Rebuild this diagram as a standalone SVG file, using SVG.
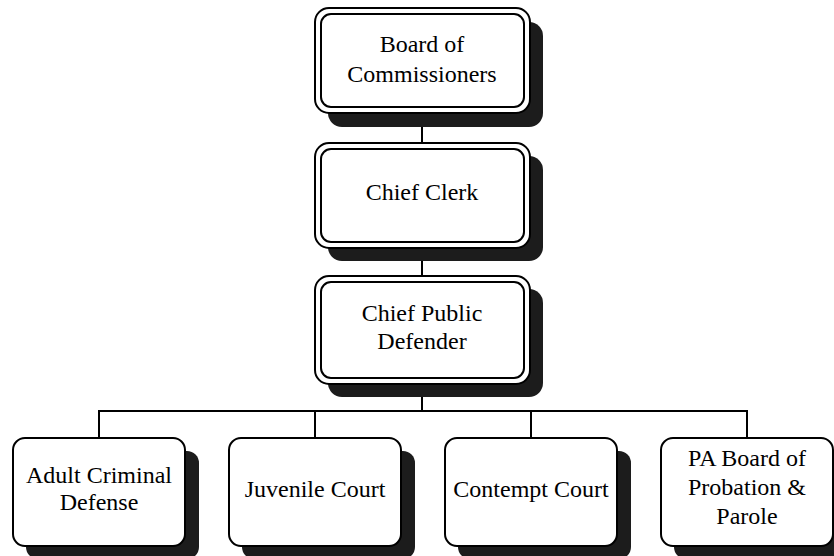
<svg xmlns="http://www.w3.org/2000/svg" width="834" height="556" viewBox="0 0 834 556">
<style>
.shadow{fill:#1c1c1c;stroke:none}
.box{fill:#fff;stroke:#000;stroke-width:2}
.inner{fill:none;stroke:#000;stroke-width:2}
.lbl{font-family:"Liberation Serif","Times New Roman",serif;font-size:24px;fill:#000;text-anchor:middle}
.conn{stroke:#000;stroke-width:2;fill:none}
</style>
<rect width="834" height="556" fill="#fff"/>
<g id="connectors">
<line class="conn" x1="422" y1="113" x2="422" y2="143"/>
<line class="conn" x1="422" y1="248" x2="422" y2="276"/>
<line class="conn" x1="422" y1="384" x2="422" y2="411"/>
<line class="conn" x1="98" y1="411" x2="748" y2="411"/>
<line class="conn" x1="99" y1="411" x2="99" y2="438"/>
<line class="conn" x1="315" y1="411" x2="315" y2="438"/>
<line class="conn" x1="531" y1="411" x2="531" y2="438"/>
<line class="conn" x1="747" y1="411" x2="747" y2="438"/>
</g>
<g id="board">
<rect class="shadow" x="328" y="22" width="215" height="105" rx="14"/>
<rect class="box" x="315" y="8" width="215" height="105" rx="14"/>
<rect class="inner" x="321" y="14" width="203" height="93" rx="10"/>
<text class="lbl" x="422" y="52">Board of</text>
<text class="lbl" x="422" y="82">Commissioners</text>
</g>
<g id="clerk">
<rect class="shadow" x="328" y="156" width="215" height="105" rx="14"/>
<rect class="box" x="315" y="143" width="215" height="105" rx="14"/>
<rect class="inner" x="321" y="149" width="203" height="93" rx="10"/>
<text class="lbl" x="422" y="200">Chief Clerk</text>
</g>
<g id="cpd">
<rect class="shadow" x="328" y="289" width="215" height="108" rx="14"/>
<rect class="box" x="315" y="276" width="215" height="108" rx="14"/>
<rect class="inner" x="321" y="282" width="203" height="96" rx="10"/>
<text class="lbl" x="422" y="321">Chief Public</text>
<text class="lbl" x="422" y="349">Defender</text>
</g>
<g id="adult">
<rect class="shadow" x="26" y="451" width="173" height="108" rx="12"/>
<rect class="box" x="13" y="438" width="172" height="108" rx="12"/>
<text class="lbl" x="99" y="483">Adult Criminal</text>
<text class="lbl" x="99" y="510">Defense</text>
</g>
<g id="juvenile">
<rect class="shadow" x="242" y="451" width="173" height="108" rx="12"/>
<rect class="box" x="229" y="438" width="172" height="108" rx="12"/>
<text class="lbl" x="315" y="497">Juvenile Court</text>
</g>
<g id="contempt">
<rect class="shadow" x="458" y="451" width="173" height="108" rx="12"/>
<rect class="box" x="445" y="438" width="172" height="108" rx="12"/>
<text class="lbl" x="531" y="497">Contempt Court</text>
</g>
<g id="pa">
<rect class="shadow" x="674" y="451" width="173" height="108" rx="12"/>
<rect class="box" x="661" y="438" width="172" height="108" rx="12"/>
<text class="lbl" x="747" y="466">PA Board of</text>
<text class="lbl" x="747" y="495">Probation &amp;</text>
<text class="lbl" x="747" y="524">Parole</text>
</g>
</svg>
